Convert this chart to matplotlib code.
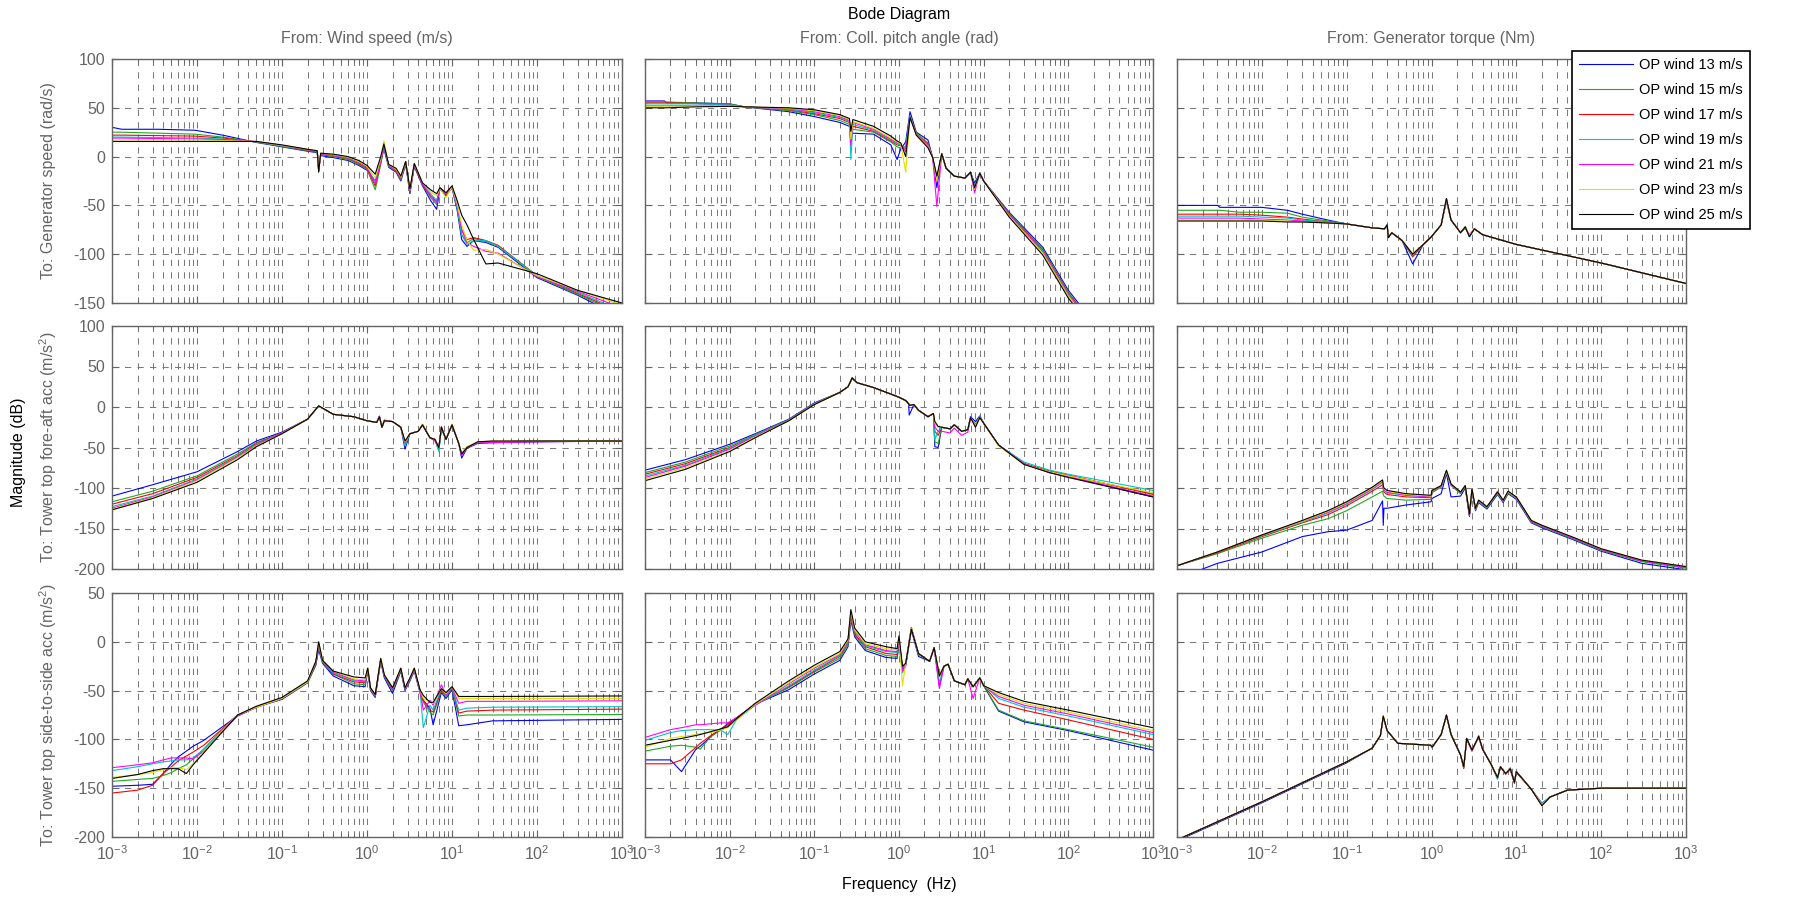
#!/usr/bin/env python3
"""
Bode diagram, 3 inputs x 3 outputs, 7 operating points
"""
import numpy as np
import matplotlib
matplotlib.use('Agg')
import matplotlib.pyplot as plt
from matplotlib.ticker import LogLocator, NullFormatter

plt.rcParams['font.family'] = ['Liberation Sans', 'DejaVu Sans']
plt.rcParams['mathtext.fontset'] = 'custom'
plt.rcParams['mathtext.rm'] = 'Liberation Sans'
plt.rcParams['mathtext.it'] = 'Liberation Sans:italic'
plt.rcParams['axes.unicode_minus'] = False

# ===== series =====
op_labels = ['OP wind 13 m/s', 'OP wind 15 m/s', 'OP wind 17 m/s', 'OP wind 19 m/s',
             'OP wind 21 m/s', 'OP wind 23 m/s', 'OP wind 25 m/s']
op_colors = ['#0000ff', '#1faa1f', '#ff0000', '#00c4c4', '#ff00ff', '#e0e000', '#000000']

in_names = ['From: Wind speed (m/s)', 'From: Coll. pitch angle (rad)', 'From: Generator torque (Nm)']
out_names = ['To: Generator speed (rad/s)', 'To: Tower top fore-aft acc (m/s$^2$)',
             'To: Tower top side-to-side acc (m/s$^2$)']

# ===== wind -> generator speed =====
f_wind_gen = [0.001, 0.0013, 0.0035, 0.0095, 0.02, 0.05, 0.1, 0.2, 0.26, 0.27, 0.285, 0.4, 0.6, 0.8,
              1.0, 1.25, 1.45, 1.58, 1.8, 2.2, 2.5, 2.85, 3.2, 3.6, 4.5, 5.6, 6.6, 7.2, 8.5, 10,
              11.5, 13, 15, 18, 25, 35, 100, 300, 1000]
wind_gen = [
    [30, 28, 28, 27, 22, 14.5, 10, 5.5, 4, -13, 1, -1, -4, -9, -14, -25, -6, 8, -11, -16, -25, -8, -38, -10, -30, -45, -54, -33, -40, -32, -55, -85, -92, -86, -88, -93, -124, -142, -165],
    [25, 25, 24, 23, 20, 15, 10.5, 6, 4.5, -14, 2, 0, -3, -8, -13, -34, -8, 10, -10, -15, -24, -7, -36, -9, -29, -42, -49, -32, -39, -31, -52, -80, -88, -84, -87, -92, -123, -141, -162],
    [22, 22, 21.5, 21, 19, 15, 11, 6.5, 5, -14, 2.5, 0.5, -2, -7, -12, -30, -6, 11, -9, -15, -23, -6, -36, -9, -29, -40, -46, -32, -39, -31, -50, -75, -85, -83, -86, -91, -122, -140, -160],
    [20, 20, 19.5, 19, 18, 15, 11, 7, 5.5, -15, 3, 1, -1.5, -6, -11, -26, -4, 10, -9, -14, -22, -6, -35, -8, -28, -38, -45, -32, -38, -31, -52, -80, -90, -86, -86, -92, -122, -139, -158],
    [19, 19, 18.5, 18, 17.5, 15.5, 11.5, 7, 5.5, -15, 3, 1.5, -1, -5.5, -11, -28, -5, 12, -9, -14, -22, -5, -35, -8, -28, -40, -47, -32, -38, -31, -50, -75, -88, -92, -97, -99, -123, -138, -155],
    [17, 17, 17, 17, 16.5, 15.5, 11.5, 7.5, 6, -15, 3.5, 2, -0.5, -5, -10, -22, -2, 16, -8, -13, -21, -5, -34, -7, -27, -36, -40, -33, -42, -31, -48, -70, -86, -96, -95, -100, -122, -137, -152],
    [15.5, 15.5, 15.5, 15.5, 15.5, 15.5, 12, 7.5, 6, -16, 3.5, 2.5, 0, -4, -9, -18, 0, 13, -8, -12, -20, -5, -33, -7, -27, -34, -38, -32, -37, -30, -45, -60, -70, -85, -110, -109, -120, -137, -150],
]

# ===== pitch -> generator speed =====
f_pitch_gen = [0.001, 0.0017, 0.0018, 0.004, 0.01, 0.015, 0.05, 0.1, 0.2, 0.26, 0.27, 0.285, 0.5, 0.8,
               0.95, 1.05, 1.2, 1.35, 1.6, 2.2, 2.5, 2.8, 3.2, 3.6, 4.5, 6.0, 7.0, 7.8, 9.0, 10,
               20, 50, 100, 200]
pitch_gen = [
    [57, 57, 55, 55, 54, 51, 46, 41, 35, 31, 20, 24, 23, 12, -3, 8, 15, 46, 25, 17, -1, -32, 3, -12, -20, -22, -16, -27, -17, -25, -57, -93, -137, -170],
    [56, 56, 56, 55, 54, 51, 47, 43, 37, 33, 15, 28, 25, 15, 10, 9, 10, 42, 24, 14, -1, -22, 3, -12, -20, -22, -16, -30, -17, -25, -58, -95, -139, -172],
    [55, 55, 55, 54.5, 53, 51, 48, 44, 39, 35, 15, 31, 26, 16, 12, 11, 8, 41, 23, 13, -1, -25, 3, -12, -20, -22, -16, -31, -17, -25, -59, -96, -140, -173],
    [54, 54, 54, 54, 53, 51, 48.5, 45, 40, 36, -3, 33, 27, 17, 13, 12, 9, 41, 23, 12, -1, -22, 3, -12, -20, -22, -16, -31, -17, -25, -60, -97, -141, -174],
    [52, 52, 52, 52.5, 52.5, 51, 49, 46, 41, 37, 12, 35, 28, 18, 14, 13, 5, 40, 23, 11, -1, -51, 3, -12, -20, -22, -16, -37, -17, -25, -60, -98, -142, -175],
    [51.5, 51.5, 51.5, 52, 52, 51, 49.5, 47, 42, 38, 18, 36, 29, 19, 15, 13, -16, 40, 22, 10, -1, -25, 3, -12, -20, -22, -16, -33, -17, -25, -61, -99, -143, -176],
    [50, 50, 50, 51, 51.5, 51, 50, 48, 43, 39, 26, 38, 31, 21, 16, 14, 0, 40, 22, 9, -1, -20, 3, -12, -20, -22, -16, -32, -17, -25, -62, -101, -145, -178],
]

# ===== torque -> generator speed =====
f_torq_gen = [0.001, 0.003, 0.0032, 0.0055, 0.01, 0.02, 0.03, 0.06, 0.1, 0.2, 0.28, 0.3, 0.31, 0.34,
              0.45, 0.6, 0.8, 1.0, 1.3, 1.5, 1.7, 2.2, 2.5, 2.8, 3.2, 4.0, 10, 100, 1000]
torq_gen = [
    [-50, -50, -52, -52, -52, -55, -59, -65, -69, -73, -74, -70, -83, -78, -86, -110, -90, -82, -70, -43, -65, -78, -72, -82, -74, -80, -90, -109, -130],
    [-55, -55, -55, -57, -57, -58, -62, -66, -69, -73, -74, -70, -83, -78, -86, -103, -90, -82, -70, -44, -65, -78, -72, -82, -74, -80, -90, -109, -130],
    [-59, -59, -59, -59, -60, -62, -64, -67, -69, -73, -74, -71, -82, -78, -86, -102, -90, -82, -70, -45, -65, -78, -73, -81, -74, -80, -90, -109, -130],
    [-61, -61, -61, -61, -62, -63, -65, -67, -69, -73, -74, -70, -82, -78, -86, -101, -90, -82, -70, -45, -65, -78, -72, -82, -74, -80, -90, -109, -130],
    [-63, -63, -63, -63, -64, -65, -66, -68, -69, -73, -74, -71, -82, -78, -86, -100, -90, -82, -70, -45, -65, -78, -73, -80, -74, -80, -90, -109, -130],
    [-65, -65, -65, -65, -65, -66, -67, -68, -69, -73, -74, -71, -82, -78, -86, -99, -90, -82, -70, -44, -65, -78, -72, -81, -74, -80, -90, -109, -130],
    [-66, -66, -66, -66, -66, -67, -67, -68, -69, -73, -74, -70, -83, -78, -86, -100, -90, -82, -70, -43, -65, -78, -72, -82, -74, -80, -90, -109, -130],
]

# ===== wind -> tower fore-aft acc =====
f_wind_fa = [0.001, 0.003, 0.01, 0.03, 0.05, 0.1, 0.2, 0.27, 0.4, 0.7, 1.0, 1.3, 1.4, 1.5, 1.6, 2.0,
             2.5, 2.8, 3.2, 4.0, 4.5, 5.5, 6.3, 7.0, 7.5, 8.5, 10, 12, 13, 15, 20, 30, 100, 1000]
wind_fa = [
    [-110, -96, -80, -55, -42, -31, -15, 1, -9, -12, -17, -19, -12, -25, -17, -18, -25, -52, -33, -30, -22, -38, -40, -53, -27, -40, -22, -45, -63, -51, -45, -44, -43, -42],
    [-117, -104, -85, -58, -44, -32, -15, 1, -9, -12, -17, -19, -12, -25, -17, -18, -25, -46, -33, -30, -22, -38, -40, -52, -25, -40, -22, -45, -60, -50, -44, -43, -42, -42],
    [-120, -107, -87, -60, -45, -32, -15, 1, -9, -12, -17, -19, -12, -25, -17, -18, -25, -45, -33, -30, -22, -38, -40, -50, -25, -40, -22, -45, -59, -50, -44, -43, -42, -42],
    [-123, -110, -89, -61, -46, -32, -15, 1, -9, -12, -17, -19, -12, -25, -17, -18, -25, -48, -33, -30, -22, -38, -41, -55, -26, -40, -22, -45, -58, -50, -44, -43, -42, -42],
    [-125, -111, -90, -62, -47, -32, -15, 1, -9, -12, -17, -19, -11, -25, -16, -18, -25, -44, -33, -30, -22, -38, -42, -50, -24, -40, -22, -45, -60, -50, -44, -44, -43, -42],
    [-126, -112, -91, -63, -48, -33, -15, 1, -9, -12, -17, -19, -12, -25, -17, -18, -25, -43, -33, -30, -21, -38, -40, -50, -25, -40, -21, -45, -56, -49, -43, -42, -42, -42],
    [-127, -113, -93, -65, -49, -33, -15, 1.5, -9, -12, -17, -19, -12, -25, -17, -18, -25, -42, -33, -30, -22, -38, -40, -50, -25, -40, -22, -45, -58, -50, -43, -42, -42, -42],
]

# ===== pitch -> tower fore-aft acc =====
f_pitch_fa = [0.001, 0.003, 0.01, 0.02, 0.05, 0.1, 0.2, 0.25, 0.28, 0.32, 0.5, 0.8, 1.0, 1.2, 1.3, 1.32,
              1.5, 1.7, 2.2, 2.55, 2.65, 2.9, 3.2, 4.0, 4.5, 5.5, 6.5, 7.0, 8.0, 9.0, 10, 15, 30, 60,
              100, 1000]
pitch_fa = [
    [-78, -65, -46, -33, -15, 5, 18, 25, 35, 30, 24, 16, 12, 8, 4, -10, 3, -4, -12, -8, -49, -50, -25, -27, -22, -30, -28, -12, -18, -11, -20, -47, -70, -81, -86, -111],
    [-81, -68, -48, -34, -15.5, 4.5, 18, 25, 36, 30, 24, 16, 12, 8, 4, 2, 3, -4, -12, -8, -43, -45, -25, -27, -22, -30, -28, -13, -21, -12, -20, -47, -70, -80, -85, -107],
    [-83, -70, -50, -35, -16, 4, 18, 25, 36, 30, 24, 16, 12, 8, 4, 2, 3, -4, -12, -8, -30, -35, -25, -27, -22, -30, -28, -13, -22, -12, -20, -47, -70, -79, -84, -108],
    [-85, -72, -51, -35, -16, 4, 18, 25, 36, 30, 24, 16, 12, 8, 4, 2, 3, -4, -12, -8, -40, -30, -25, -27, -22, -30, -28, -13, -22, -12, -20, -47, -68, -78, -83, -103],
    [-87, -73, -52, -36, -16.5, 3.5, 18, 25, 36, 30, 24, 16, 12, 8, 4, 2, 3, -4, -12, -8, -25, -30, -30, -32, -26, -35, -31, -14, -24, -13, -20, -47, -70, -81, -86, -110],
    [-89, -75, -54, -37, -17, 3, 18, 25, 36, 30, 24, 16, 12, 8, 4, 2, 3, -4, -12, -8, -20, -25, -25, -27, -22, -30, -28, -13, -23, -13, -20, -48, -71, -80, -85, -106],
    [-91, -77, -55, -38, -17, 3, 18, 25, 36, 30, 24, 16, 12, 8, 4, 2, 3, -4, -12, -8, -18, -24, -25, -27, -22, -30, -28, -13, -25, -13, -20, -47, -71, -81, -87, -111],
]

# ===== torque -> tower fore-aft acc =====
f_torq_fa = [0.001, 0.003, 0.01, 0.03, 0.06, 0.1, 0.2, 0.265, 0.27, 0.275, 0.3, 0.5, 0.99, 1.01, 1.3,
             1.5, 1.7, 2.2, 2.5, 2.8, 3.0, 3.3, 3.6, 4.5, 6.0, 7.0, 8.0, 10, 15, 20, 50, 100, 300, 1000]
torq_fa = [
    [-212, -193, -179, -160, -154, -152, -140, -116, -146, -125, -125, -121, -117, -113, -107, -82, -111, -110, -100, -135, -104, -128, -118, -126, -108, -118, -107, -114, -143, -149, -165, -178, -193, -201],
    [-196, -181, -162, -146, -138, -128, -111, -104, -108, -110, -113, -115, -114, -106, -99, -81, -97, -107, -99, -134, -103, -127, -117, -125, -107, -117, -106, -113, -142, -148, -164, -177, -191, -199],
    [-196, -180, -160, -143, -133, -122, -104, -96, -102, -105, -108, -111, -112, -104, -98, -80, -96, -106, -98, -133, -102, -126, -116, -124, -106, -116, -105, -112, -141, -147, -163, -176, -190, -198],
    [-196, -179, -159, -142, -131, -120, -102, -93, -100, -103, -106, -109, -111, -104, -98, -80, -96, -106, -98, -132, -102, -126, -116, -124, -106, -116, -105, -112, -141, -147, -163, -176, -190, -198],
    [-196, -179, -158, -141, -130, -119, -101, -92, -99, -102, -105, -109, -111, -104, -98, -79, -96, -105, -97, -133, -102, -125, -115, -124, -104, -116, -104, -112, -141, -147, -163, -176, -190, -198],
    [-196, -179, -158, -141, -129, -118, -100, -91, -98, -101, -104, -108, -110, -103, -97, -79, -95, -105, -97, -131, -101, -125, -115, -123, -105, -115, -105, -111, -140, -146, -162, -175, -189, -197],
    [-196, -179, -158, -140, -128, -117, -99, -90, -97, -100, -103, -107, -109, -103, -97, -78, -95, -105, -97, -132, -101, -125, -115, -123, -105, -115, -104, -111, -140, -146, -162, -175, -189, -197],
]

# ===== wind -> tower side-to-side acc =====
f_wind_ss = [0.001, 0.002, 0.003, 0.004, 0.005, 0.006, 0.0075, 0.009, 0.012, 0.02, 0.03, 0.05, 0.1,
             0.2, 0.25, 0.27, 0.3, 0.4, 0.7, 0.95, 1.02, 1.1, 1.25, 1.45, 1.6, 2.0, 2.5, 2.8, 3.2,
             3.6, 4.2, 4.6, 5.5, 6.0, 7.5, 8.5, 10, 12, 15, 30, 1000]
wind_ss = [
    [-148, -147, -146, -135, -125, -118, -112, -107, -101, -87, -76, -67, -59, -42, -24, -8, -22, -35, -45, -46, -30, -50, -57, -20, -37, -53, -30, -50, -40, -30, -52, -60, -68, -85, -52, -58, -49, -86, -85, -81, -79.5],
    [-143, -141, -140, -137, -134, -130, -126, -120, -110, -90, -76, -67, -58, -42, -23, -5, -21, -33, -43, -44, -29, -49, -56, -19, -36, -50, -29, -49, -39, -29, -51, -62, -72, -75, -50, -56, -48, -76, -75, -75, -74.5],
    [-155, -152, -147, -135, -128, -122, -117, -113, -106, -89, -75, -67, -58, -41, -22, -4, -20, -33, -41, -42, -28, -48, -55, -18, -35, -49, -28, -48, -38, -28, -50, -60, -70, -72, -50, -55, -47, -73, -71, -70, -69],
    [-132, -128, -125, -123, -122, -121, -121, -119, -110, -90, -75, -67, -58, -41, -21, -3, -20, -32, -40, -41, -28, -48, -55, -18, -35, -48, -28, -48, -38, -28, -50, -88, -65, -70, -48, -55, -47, -70, -68, -67, -66.5],
    [-129, -126, -124, -121, -119, -119, -119, -120, -112, -92, -76, -67, -58, -41, -21, -2, -20, -31, -39, -40, -28, -48, -55, -18, -35, -48, -28, -48, -38, -28, -50, -70, -60, -65, -44, -54, -47, -63, -61, -61, -60.5],
    [-139, -136, -134, -131, -129, -129, -131, -125, -113, -91, -75, -67, -58, -41, -20, -1, -19, -30, -38, -39, -27, -47, -54, -17, -34, -47, -27, -47, -37, -27, -49, -58, -62, -63, -48, -53, -46, -58, -58, -58, -58],
    [-140, -136, -132, -130, -130, -130, -135, -126, -114, -92, -75, -66, -57, -40, -20, 0, -19, -30, -36, -37, -27, -47, -54, -17, -34, -47, -27, -47, -37, -27, -49, -55, -62, -62, -48, -52, -46, -56, -56, -56, -55.5],
]

# ===== pitch -> tower side-to-side acc =====
f_pitch_ss = [0.001, 0.002, 0.0027, 0.004, 0.0045, 0.006, 0.008, 0.0095, 0.012, 0.02, 0.05, 0.1, 0.2,
              0.25, 0.27, 0.3, 0.4, 0.7, 0.95, 1.0, 1.1, 1.2, 1.4, 1.7, 2.3, 2.6, 3.0, 3.4, 3.8, 4.5,
              6.0, 6.5, 7.5, 9.0, 10, 15, 30, 100, 1000]
pitch_ss = [
    [-121, -121, -133, -110, -107, -97, -89, -84, -78, -64, -49, -33, -19, -5, 22, 5, -9, -16, -17, -3, -30, -25, 12, -15, -20, -6, -45, -25, -23, -40, -44, -38, -46, -37, -45, -71, -82, -91, -111],
    [-112, -107, -106, -108, -110, -97, -90, -87, -80, -64, -47, -31, -17, -3, 25, 7, -7, -14, -15, -1, -25, -23, 15, -13, -20, -6, -35, -25, -23, -40, -44, -38, -46, -37, -45, -70, -81, -90, -108],
    [-125, -125, -121, -108, -104, -96, -89, -85, -78, -64, -46, -30, -15, -1, 26, 8, -5, -12, -13, 1, -28, -22, 14, -12, -20, -6, -35, -25, -23, -40, -44, -38, -46, -37, -45, -63, -70, -80, -100],
    [-101, -93, -91, -90, -90, -90, -91, -95, -80, -65, -45, -29, -14, 0, 28, 10, -4, -10, -11, 3, -32, -22, 14, -12, -20, -6, -42, -25, -23, -40, -44, -38, -46, -37, -45, -58, -67, -76, -95],
    [-98, -90, -88, -85, -85, -84, -83, -83, -78, -65, -43, -27, -13, 1, 29, 11, -3, -9, -10, 4, -30, -22, 14, -12, -20, -6, -48, -25, -23, -40, -44, -38, -58, -37, -45, -56, -65, -74, -93],
    [-108, -99, -97, -95, -94, -93, -90, -88, -80, -64, -42, -26, -12, 2, 31, 12, -2, -7, -8, 5, -45, -22, 14, -12, -20, -6, -35, -25, -23, -40, -44, -38, -46, -37, -45, -54, -63, -72, -91],
    [-106, -101, -99, -96, -95, -92, -89, -87, -79, -63, -40, -24, -10, 3, 33, 14, 0, -5, -7, 6, -25, -22, 13, -12, -20, -6, -35, -25, -23, -40, -44, -38, -46, -37, -45, -52, -61, -70, -88],
]

# ===== torque -> tower side-to-side acc =====
f_torq_ss = [0.001, 0.01, 0.1, 0.2, 0.25, 0.27, 0.3, 0.4, 0.98, 1.02, 1.3, 1.5, 1.7, 2.2, 2.4, 2.6,
             3.0, 3.6, 4.0, 5.0, 6.0, 6.5, 7.5, 8.5, 9.5, 10, 15, 20, 25, 40, 100, 1000]
torq_ss = [
    [-204, -165, -124, -109, -96, -77, -91, -104, -106, -108, -95, -75, -95, -116, -128, -100, -111, -97, -110, -125, -140, -128, -135, -131, -145, -133, -151, -167, -159, -152, -150, -150],
    [-203, -164, -123, -109, -96, -77, -91, -104, -106, -108, -95, -76, -95, -116, -129, -99, -111, -98, -110, -125, -139, -128, -135, -130, -144, -133, -151, -166, -159, -152, -150, -150],
    [-203, -164, -123, -109, -96, -77, -91, -104, -106, -108, -95, -76, -95, -116, -130, -100, -112, -97, -110, -125, -139, -129, -135, -131, -144, -134, -151, -167, -159, -152, -150, -150],
    [-203, -164, -123, -109, -96, -77, -91, -104, -106, -108, -95, -76, -95, -116, -129, -99, -111, -97, -110, -125, -141, -128, -135, -130, -143, -133, -151, -165, -159, -152, -150, -150],
    [-203, -164, -123, -109, -96, -77, -91, -104, -106, -108, -95, -75, -95, -116, -128, -99, -112, -96, -110, -125, -139, -128, -136, -129, -144, -133, -151, -166, -159, -152, -150, -150],
    [-203, -164, -123, -109, -96, -76, -91, -104, -106, -108, -95, -75, -95, -116, -128, -99, -111, -97, -110, -125, -139, -128, -135, -130, -144, -133, -151, -167, -159, -152, -150, -150],
    [-203, -164, -123, -109, -96, -76, -91, -104, -106, -108, -95, -75, -95, -116, -128, -99, -111, -97, -110, -125, -139, -128, -135, -130, -144, -133, -151, -168, -159, -152, -150, -150],
]

panels = [
    [(f_wind_gen, wind_gen), (f_pitch_gen, pitch_gen), (f_torq_gen, torq_gen)],
    [(f_wind_fa, wind_fa), (f_pitch_fa, pitch_fa), (f_torq_fa, torq_fa)],
    [(f_wind_ss, wind_ss), (f_pitch_ss, pitch_ss), (f_torq_ss, torq_ss)],
]
row_ylims = [(-150, 100), (-200, 100), (-200, 50)]

# ===== layout (pixels) =====
W, H = 1794, 898
col_x = [(112, 622), (645, 1153), (1177, 1686)]
row_y = [(59, 303), (326, 569), (593, 837)]
gray = '#646464'
grid_kw = dict(color='#7a7a7a', lw=0.75, ls=(0, (6, 6)))

fig = plt.figure(figsize=(W / 100, H / 100), dpi=100)
axes = [[None] * 3 for _ in range(3)]

for r in range(3):
    for c in range(3):
        x0, x1 = col_x[c]; y0, y1 = row_y[r]
        ax = fig.add_axes([x0 / W, 1 - y1 / H, (x1 - x0) / W, (y1 - y0) / H])
        axes[r][c] = ax
        f, vals = panels[r][c]
        for k in range(7):
            ax.plot(f, vals[k], color=op_colors[k], lw=0.8, label=op_labels[k])
        ax.set_xscale('log')
        ax.set_xlim(1e-3, 1e3)
        lo, hi = row_ylims[r]
        ax.set_ylim(lo, hi)
        ax.set_yticks(np.arange(lo, hi + 1, 50))
        ax.xaxis.set_major_locator(LogLocator(base=10, numticks=10))
        ax.xaxis.set_minor_locator(LogLocator(base=10, subs=np.arange(2, 10), numticks=10))
        ax.xaxis.set_minor_formatter(NullFormatter())
        ax.grid(True, which='major', axis='both', **grid_kw)
        ax.grid(True, which='minor', axis='x', **grid_kw)
        ax.tick_params(which='both', direction='in', top=True, right=True, color=gray,
                       labelcolor=gray, labelsize=11.5)
        ax.tick_params(which='major', length=5, pad=5)
        ax.tick_params(which='minor', length=3)
        ax.tick_params(labelleft=(c == 0), labelbottom=(r == 2))
        for s in ax.spines.values():
            s.set_color(gray); s.set_linewidth(1.0)

# ===== texts =====
fig.text(899 / W, 1 - 15 / H, 'Bode Diagram', ha='center', va='center', fontsize=11.5, color='black')
for c in range(3):
    xc = (col_x[c][0] + col_x[c][1]) / 2
    fig.text(xc / W, 1 - 38 / H, in_names[c], ha='center', va='center', fontsize=11.5, color=gray)
for r in range(3):
    yc = (row_y[r][0] + row_y[r][1]) / 2
    fig.text(48 / W, 1 - yc / H, out_names[r], rotation=90, ha='center', va='center',
             fontsize=11.5, color=gray)
fig.text(19 / W, 1 - 452 / H, 'Magnitude (dB)', rotation=90, ha='center', va='center',
         fontsize=11.5, color='black')
fig.text(899 / W, 1 - 884 / H, 'Frequency  (Hz)', ha='center', va='center', fontsize=11.5, color='black')

# ===== legend =====
h, l = axes[0][2].get_legend_handles_labels()
leg = fig.legend(h, l, loc='upper right', bbox_to_anchor=(1750 / W, 1 - 51 / H), frameon=True,
                 fancybox=False, edgecolor='black', framealpha=1, fontsize=10.5,
                 handlelength=3.7, handletextpad=0.4, labelspacing=0.75, borderaxespad=0,
                 borderpad=0.5)
leg.get_frame().set_linewidth(1.2)

plt.savefig('out.png', dpi=100)
plt.close()
